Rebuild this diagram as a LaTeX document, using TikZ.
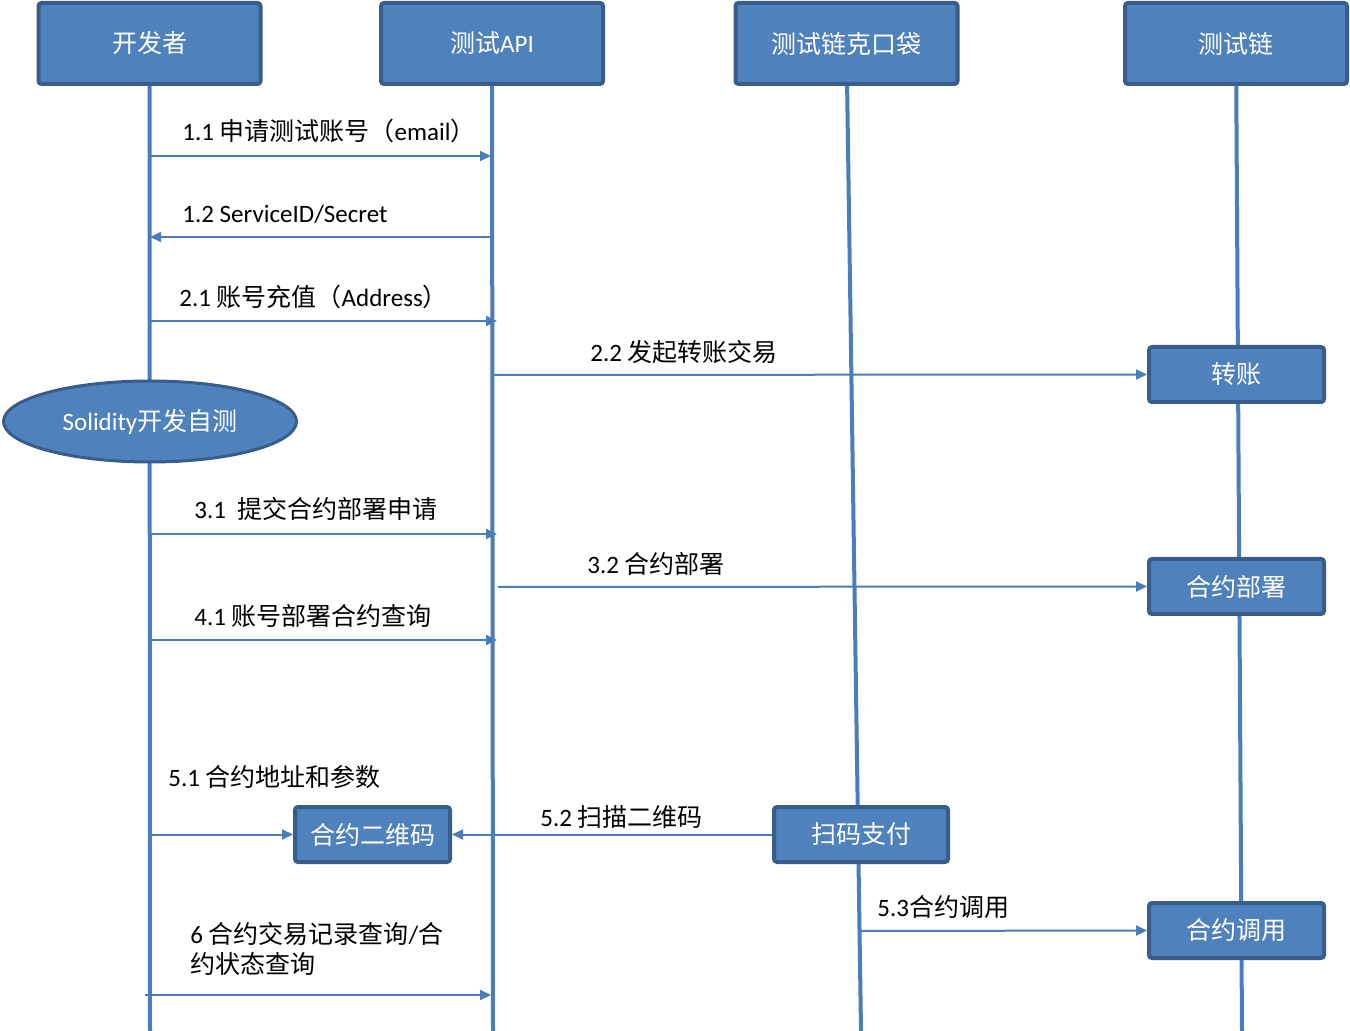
\documentclass[tikz,border=0pt]{standalone}
\usepackage{fontspec}
\setmainfont{Carlito}
\newfontfamily\zhfont{Noto Sans CJK SC}
\newcommand\zh[1]{{\zhfont #1}}
\usetikzlibrary{arrows.meta,shapes.geometric,positioning}
\definecolor{boxfill}{HTML}{4F81BD}
\definecolor{boxline}{HTML}{385D8A}
\definecolor{lifeblue}{HTML}{4A7EBB}

\begin{document}
\begin{tikzpicture}[x=0.5pt,y=-0.5pt,
    actor/.style={rectangle,draw=boxline,fill=boxfill,line width=2pt,rounded corners=1.5pt,
      minimum width=111pt,minimum height=40.5pt,inner sep=0pt,text=white,
      font=\fontsize{12.5}{15}\selectfont},
    act/.style={actor,minimum width=87.5pt,minimum height=27.5pt},
    note/.style={ellipse,draw=boxline,fill=boxfill,line width=1.5pt,minimum width=146.5pt,
      minimum height=40.5pt,inner sep=0pt,text=white,font=\fontsize{12.5}{15}\selectfont},
    life/.style={draw=lifeblue,line width=2pt},
    msg/.style={draw=lifeblue,line width=1pt,-{Triangle[length=5.5pt,width=5pt]}},
    lbl/.style={anchor=west,inner sep=0pt,align=left,font=\fontsize{12.5}{15}\selectfont}]

    \useasboundingbox (0,0) rectangle (1350,1031);

    % participants
    \node[actor] (dev) at (149.5,43.5) {\zh{开发者}};
    \node[actor] (api) at (492,43.5) {\zh{测试}API};
    \node[actor] (wallet) at (846.5,43.5) {\zh{测试链克口袋}};
    \node[actor] (chain) at (1236,43.5) {\zh{测试链}};

    % lifelines
    \coordinate (devEnd) at (150,1031);
    \coordinate (apiEnd) at (493,1031);
    \coordinate (walletEnd) at (861,1031);
    \coordinate (chainEnd) at (1242,1031);
    \draw[life] (dev) -- (devEnd);
    \draw[life] (api) -- (apiEnd);
    \draw[life] (wallet) -- (walletEnd);
    \draw[life] (chain) -- (chainEnd);

    % activities
    \node[note] (selftest) at (150,421.5) {Solidity\zh{开发自测}};
    \node[act] (transfer) at (1236.5,374.5) {\zh{转账}};
    \node[act] (deploy) at (1236.5,586.5) {\zh{合约部署}};
    \node[act,minimum width=77.5pt] (qr) at (372.5,834.5) {\zh{合约二维码}};
    \node[act,minimum width=87pt] (pay) at (861,834.5) {\zh{扫码支付}};
    \node[act] (invoke) at (1236.5,930.5) {\zh{合约调用}};

    % message ends
    \coordinate (a11) at (150,156);   \coordinate (b11) at (491,156);
    \coordinate (a12) at (150,237);   \coordinate (b12) at (491,237);
    \coordinate (a21) at (150,321);   \coordinate (b21) at (497,321);
    \coordinate (a22) at (493,375);
    \coordinate (a31) at (150,534);   \coordinate (b31) at (497,534);
    \coordinate (a32) at (498,587);
    \coordinate (a41) at (150,640);   \coordinate (b41) at (497,640);
    \coordinate (a51) at (150,834.5);
    \coordinate (a53) at (861,931);
    \coordinate (a6) at (145,995);    \coordinate (b6) at (491,995);

    % messages
    \draw[msg] (a11) -- (b11);
    \draw[msg] (b12) -- (a12);
    \draw[msg] (a21) -- (b21);
    \draw[msg] (a22) -- (transfer.west);
    \draw[msg] (a31) -- (b31);
    \draw[msg] (a32) -- (deploy.west);
    \draw[msg] (a41) -- (b41);
    \draw[msg] (a51) -- (qr.west);
    \draw[msg] (pay.west) -- (qr.east);
    \draw[msg] (a53) -- (invoke.west);
    \draw[msg] (a6) -- (b6);

    % labels
    \node[lbl] (l11) at (182,131) {1.1 \zh{申请测试账号（}email\zh{）}};
    \node[lbl] (l12) at (182,214) {1.2 ServiceID/Secret};
    \node[lbl] (l21) at (179,297) {2.1 \zh{账号充值（}Address\zh{）}};
    \node[lbl] (l22) at (590,352) {2.2 \zh{发起转账交易}};
    \node[lbl] (l31) at (194,509) {3.1\ \ \zh{提交合约部署申请}};
    \node[lbl] (l32) at (587,564) {3.2 \zh{合约部署}};
    \node[lbl] (l41) at (194,616) {4.1 \zh{账号部署合约查询}};
    \node[lbl] (l51) at (168,777) {5.1 \zh{合约地址和参数}};
    \node[lbl] (l52) at (540,817) {5.2 \zh{扫描二维码}};
    \node[lbl] (l53) at (877,907) {5.3\zh{合约调用}};
    \node[lbl] (l6) at (190,949) {6 \zh{合约交易记录查询}/\zh{合}\\\zh{约状态查询}};
\end{tikzpicture}
\end{document}
